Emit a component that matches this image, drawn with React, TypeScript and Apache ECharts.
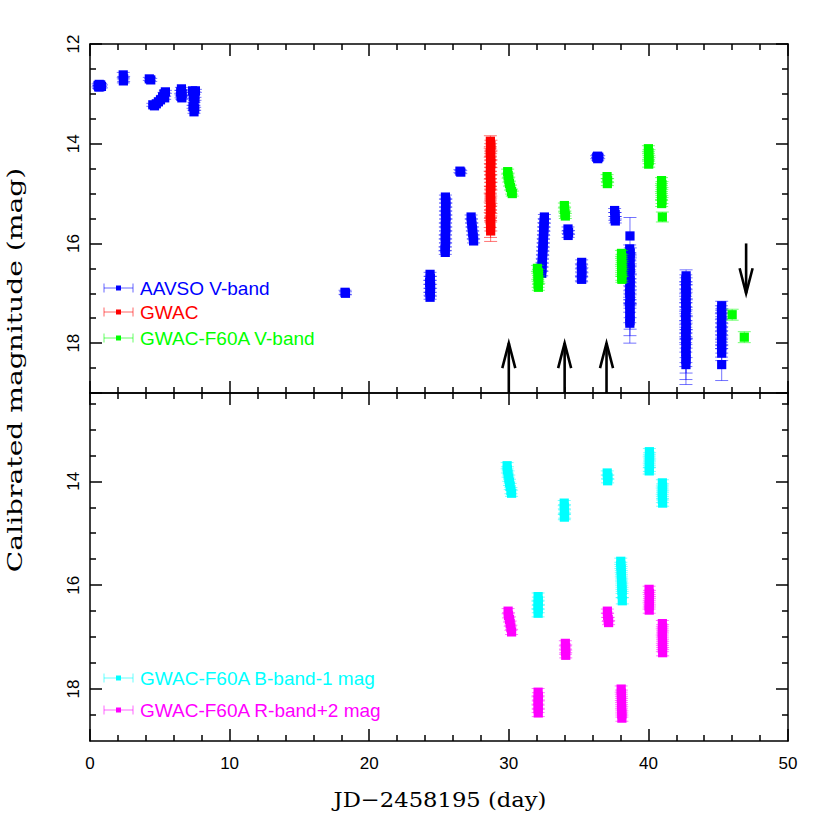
import React, { useEffect, useRef } from "react";
import * as echarts from "echarts";

// Each point: [JD - 2458195 (day), calibrated magnitude, error]
const aavsoV: number[][] = [
  [0.58, 12.83, 0.03], [0.66, 12.81, 0.03], [0.76, 12.82, 0.03], [0.82, 12.85, 0.03], [0.7, 12.86, 0.03], [0.62, 12.86, 0.03],
  [2.38, 12.62, 0.05], [2.41, 12.7, 0.05], [2.39, 12.74, 0.04],
  [4.25, 12.7, 0.03], [4.35, 12.72, 0.03],
  [4.5, 13.22, 0.03], [4.62, 13.24, 0.03], [4.75, 13.2, 0.03], [4.9, 13.16, 0.03], [5.05, 13.12, 0.03], [5.2, 13.06, 0.03], [5.3, 13.0, 0.03], [5.4, 12.96, 0.03], [5.35, 13.08, 0.03],
  [6.55, 12.9, 0.03], [6.5, 12.96, 0.03], [6.6, 13.0, 0.03], [6.52, 13.05, 0.03], [6.58, 13.08, 0.03],
  [7.35, 12.94, 0.03], [7.55, 12.94, 0.03], [7.45, 12.98, 0.03], [7.4, 13.06, 0.03], [7.52, 13.1, 0.03], [7.45, 13.2, 0.03], [7.38, 13.26, 0.03], [7.5, 13.3, 0.03], [7.45, 13.36, 0.03],
  [18.27, 16.98, 0.04], [18.3, 17.0, 0.03],
  [24.36, 16.62, 0.04], [24.38, 16.7, 0.04], [24.33, 16.78, 0.04], [24.4, 16.86, 0.04], [24.34, 16.94, 0.04], [24.38, 17.02, 0.04], [24.36, 17.08, 0.04],
  [25.46, 15.07, 0.04], [25.5, 15.15, 0.04], [25.47, 15.23, 0.04], [25.49, 15.31, 0.04], [25.46, 15.39, 0.04], [25.5, 15.47, 0.04], [25.48, 15.55, 0.04], [25.45, 15.63, 0.04],
  [25.49, 15.71, 0.04], [25.47, 15.79, 0.04], [25.44, 15.87, 0.04], [25.48, 15.95, 0.04], [25.46, 16.03, 0.04], [25.43, 16.11, 0.04], [25.45, 16.18, 0.04],
  [26.5, 14.55, 0.03], [26.56, 14.57, 0.03],
  [27.3, 15.47, 0.04], [27.33, 15.55, 0.04], [27.36, 15.63, 0.04], [27.39, 15.71, 0.04], [27.42, 15.79, 0.04], [27.45, 15.87, 0.04], [27.48, 15.95, 0.04],
  [32.55, 15.47, 0.05], [32.54, 15.55, 0.05], [32.52, 15.63, 0.05], [32.51, 15.71, 0.05], [32.5, 15.79, 0.05], [32.48, 15.87, 0.05], [32.47, 15.95, 0.05], [32.46, 16.03, 0.05],
  [32.44, 16.11, 0.05], [32.43, 16.19, 0.05], [32.41, 16.27, 0.05], [32.4, 16.35, 0.05], [32.38, 16.43, 0.05], [32.37, 16.51, 0.05], [32.36, 16.6, 0.05],
  [34.24, 15.71, 0.04], [34.28, 15.78, 0.04], [34.25, 15.84, 0.04],
  [35.22, 16.38, 0.05], [35.2, 16.46, 0.05], [35.24, 16.54, 0.05], [35.22, 16.62, 0.05], [35.2, 16.7, 0.05], [35.22, 16.72, 0.05],
  [36.3, 14.27, 0.03], [36.44, 14.27, 0.03], [36.37, 14.3, 0.03], [36.36, 14.25, 0.03],
  [37.58, 15.34, 0.04], [37.62, 15.42, 0.04], [37.6, 15.5, 0.04], [37.63, 15.55, 0.04],
  [38.68, 15.85, 0.37],
  [38.66, 16.11, 0.08], [38.7, 16.19, 0.1], [38.67, 16.27, 0.08], [38.69, 16.35, 0.1], [38.66, 16.43, 0.1], [38.7, 16.51, 0.1], [38.68, 16.59, 0.12], [38.66, 16.67, 0.1],
  [38.7, 16.75, 0.12], [38.67, 16.83, 0.12], [38.69, 16.91, 0.12], [38.66, 16.99, 0.14], [38.7, 17.07, 0.14], [38.68, 17.15, 0.15], [38.66, 17.23, 0.15], [38.69, 17.31, 0.18],
  [38.67, 17.39, 0.2], [38.69, 17.47, 0.25], [38.68, 17.55, 0.3], [38.67, 17.6, 0.4],
  [42.7, 16.65, 0.12], [42.68, 16.73, 0.1], [42.7, 16.81, 0.12], [42.67, 16.89, 0.12], [42.71, 16.97, 0.14], [42.68, 17.05, 0.14], [42.7, 17.13, 0.15], [42.67, 17.21, 0.15],
  [42.71, 17.29, 0.16], [42.69, 17.37, 0.18], [42.67, 17.45, 0.18], [42.7, 17.53, 0.2], [42.68, 17.61, 0.2], [42.71, 17.69, 0.22], [42.67, 17.77, 0.22], [42.7, 17.85, 0.25],
  [42.68, 17.93, 0.25], [42.7, 18.01, 0.28], [42.69, 18.09, 0.3], [42.68, 18.17, 0.3], [42.7, 18.25, 0.35], [42.69, 18.33, 0.4], [42.69, 18.43, 0.4],
  [45.25, 17.25, 0.09], [45.23, 17.33, 0.08], [45.26, 17.41, 0.1], [45.24, 17.49, 0.1], [45.25, 17.57, 0.1], [45.23, 17.65, 0.12], [45.26, 17.73, 0.12], [45.24, 17.81, 0.12],
  [45.25, 17.89, 0.14], [45.24, 17.97, 0.14], [45.25, 18.05, 0.15], [45.24, 18.13, 0.15], [45.25, 18.2, 0.15], [45.25, 18.43, 0.32],
];

const gwac: number[][] = [
  [28.68, 13.95, 0.11], [28.72, 14.03, 0.1], [28.7, 14.1, 0.1], [28.67, 14.18, 0.09], [28.71, 14.25, 0.09], [28.69, 14.33, 0.08], [28.72, 14.4, 0.08], [28.68, 14.48, 0.08],
  [28.7, 14.55, 0.08], [28.67, 14.63, 0.08], [28.71, 14.7, 0.08], [28.69, 14.78, 0.08], [28.72, 14.85, 0.08], [28.68, 14.93, 0.08], [28.7, 15.0, 0.09], [28.67, 15.08, 0.09],
  [28.71, 15.15, 0.1], [28.69, 15.23, 0.1], [28.72, 15.3, 0.1], [28.68, 15.38, 0.12], [28.7, 15.45, 0.12], [28.67, 15.53, 0.15], [28.71, 15.6, 0.15], [28.69, 15.68, 0.2], [28.7, 15.75, 0.21],
];

const f60aV: number[][] = [
  [29.92, 14.56, 0.05], [29.95, 14.64, 0.05], [30.0, 14.72, 0.05], [30.05, 14.8, 0.05], [30.12, 14.88, 0.05], [30.2, 14.96, 0.05], [30.25, 15.0, 0.05],
  [32.05, 16.5, 0.06], [32.12, 16.58, 0.06], [32.08, 16.66, 0.06], [32.15, 16.74, 0.06], [32.1, 16.82, 0.06], [32.12, 16.88, 0.06],
  [33.98, 15.24, 0.05], [34.0, 15.32, 0.05], [34.02, 15.4, 0.05], [34.05, 15.45, 0.05],
  [37.04, 14.66, 0.04], [37.08, 14.74, 0.04], [37.06, 14.8, 0.04],
  [38.07, 16.2, 0.06], [38.1, 16.28, 0.06], [38.07, 16.36, 0.06], [38.11, 16.44, 0.06], [38.08, 16.52, 0.06], [38.1, 16.6, 0.06], [38.09, 16.68, 0.06], [38.1, 16.72, 0.06],
  [40.0, 14.1, 0.06], [40.04, 14.18, 0.06], [40.01, 14.26, 0.06], [40.05, 14.34, 0.06], [40.02, 14.41, 0.06],
  [40.94, 14.74, 0.06], [40.97, 14.82, 0.06], [40.93, 14.9, 0.06], [40.96, 14.98, 0.06], [40.94, 15.06, 0.06], [40.97, 15.14, 0.06], [40.95, 15.2, 0.06],
  [41.0, 15.47, 0.1],
  [46.0, 17.43, 0.11],
  [46.87, 17.88, 0.11],
];

const f60aBminus1: number[][] = [
  [29.88, 13.7, 0.06], [29.9, 13.78, 0.06], [29.95, 13.86, 0.06], [30.0, 13.94, 0.06], [30.05, 14.02, 0.06], [30.1, 14.1, 0.06], [30.15, 14.18, 0.06], [30.2, 14.23, 0.06],
  [32.1, 16.22, 0.07], [32.12, 16.3, 0.07], [32.09, 16.38, 0.07], [32.11, 16.46, 0.07], [32.1, 16.54, 0.07],
  [33.97, 14.42, 0.05], [33.99, 14.5, 0.05], [33.98, 14.58, 0.05], [34.0, 14.66, 0.05], [33.98, 14.69, 0.05],
  [37.05, 13.84, 0.04], [37.1, 13.92, 0.04], [37.08, 13.99, 0.04],
  [38.02, 15.54, 0.06], [38.03, 15.62, 0.06], [38.05, 15.7, 0.06], [38.06, 15.78, 0.06], [38.07, 15.86, 0.06], [38.09, 15.94, 0.06], [38.1, 16.02, 0.06], [38.11, 16.1, 0.06],
  [38.12, 16.18, 0.06], [38.13, 16.3, 0.06],
  [40.07, 13.43, 0.06], [40.09, 13.51, 0.06], [40.06, 13.59, 0.06], [40.08, 13.67, 0.06], [40.07, 13.75, 0.06], [40.06, 13.8, 0.06],
  [41.0, 14.03, 0.06], [41.02, 14.11, 0.06], [40.99, 14.19, 0.06], [41.01, 14.27, 0.06], [41.0, 14.35, 0.06], [41.02, 14.42, 0.06],
];

const f60aRplus2: number[][] = [
  [29.95, 16.5, 0.05], [29.98, 16.58, 0.05], [30.05, 16.66, 0.05], [30.1, 16.74, 0.05], [30.15, 16.82, 0.05], [30.2, 16.9, 0.05],
  [32.1, 18.06, 0.07], [32.12, 18.14, 0.07], [32.09, 18.22, 0.07], [32.11, 18.3, 0.07], [32.1, 18.38, 0.07], [32.11, 18.46, 0.07],
  [34.05, 17.12, 0.05], [34.08, 17.2, 0.05], [34.06, 17.28, 0.05], [34.08, 17.35, 0.05],
  [37.06, 16.5, 0.04], [37.08, 16.58, 0.04], [37.12, 16.66, 0.04], [37.15, 16.72, 0.04],
  [38.05, 18.0, 0.06], [38.07, 18.08, 0.06], [38.06, 18.16, 0.06], [38.08, 18.24, 0.06], [38.07, 18.32, 0.06], [38.09, 18.4, 0.06], [38.1, 18.48, 0.06], [38.1, 18.56, 0.06],
  [40.05, 16.08, 0.06], [40.08, 16.16, 0.06], [40.06, 16.24, 0.06], [40.07, 16.32, 0.06], [40.05, 16.4, 0.06], [40.06, 16.48, 0.06],
  [41.0, 16.74, 0.06], [41.02, 16.82, 0.06], [40.99, 16.9, 0.06], [41.01, 16.98, 0.06], [41.0, 17.06, 0.06], [41.02, 17.14, 0.06], [41.0, 17.22, 0.06], [41.02, 17.3, 0.06],
];

// Arrows: [x, from magnitude, to magnitude]
const arrows: number[][] = [
  [30, 19, 18],
  [34, 19, 18],
  [37, 19, 18],
  [47, 16, 17],
];

const topLegendLabels = ["AAVSO V-band", "GWAC", "GWAC-F60A V-band"];
const topLegendColors = ["#0000ff", "#ff0000", "#00ff00"];
const bottomLegendLabels = ["GWAC-F60A B-band-1 mag", "GWAC-F60A R-band+2 mag"];
const bottomLegendColors = ["#00ffff", "#ff00ff"];

const bottomMajorTicks = [14, 16, 18];
const bottomMinorTicks = [12.5, 13, 13.5, 14.5, 15, 15.5, 16.5, 17, 17.5, 18.5];

const LABEL_FONT = "Liberation Sans";
const TITLE_FONT = "DejaVu Serif";

function errRender(color: string) {
  return (params: any, api: any) => {
    const x = api.value(0);
    const y = api.value(1);
    const e = api.value(2);
    const c = api.coord([x, y]);
    const t = api.coord([x, y - e]);
    const b = api.coord([x, y + e]);
    const cw = 6.5;
    const s = 4.6;
    const ls = { stroke: color, lineWidth: 1, opacity: 0.55 };
    return {
      type: "group",
      children: [
        { type: "line", shape: { x1: c[0], y1: t[1], x2: c[0], y2: b[1] }, style: ls },
        { type: "line", shape: { x1: c[0] - cw, y1: t[1], x2: c[0] + cw, y2: t[1] }, style: ls },
        { type: "line", shape: { x1: c[0] - cw, y1: b[1], x2: c[0] + cw, y2: b[1] }, style: ls },
        { type: "rect", shape: { x: c[0] - s, y: c[1] - s, width: 2 * s, height: 2 * s }, style: { fill: color } },
      ],
    };
  };
}

function arrowRender(params: any, api: any) {
  const x = api.value(0);
  const a = api.coord([x, api.value(1)]);
  const b = api.coord([x, api.value(2)]);
  const dir = b[1] < a[1] ? -1 : 1;
  const hl = 25;
  const hw = 6.5;
  return {
    type: "group",
    children: [
      { type: "line", shape: { x1: a[0], y1: a[1], x2: b[0], y2: b[1] }, style: { stroke: "#000", lineWidth: 2.6 } },
      {
        type: "polyline",
        shape: { points: [[b[0] - hw, b[1] - dir * hl], [b[0], b[1]], [b[0] + hw, b[1] - dir * hl]] },
        style: { stroke: "#000", lineWidth: 2.6, fill: "none" },
      },
    ],
  };
}

const lineStyle = { color: "#000", width: 1.5 };

function xAxisDef(grid: number, pos: string, labels: boolean) {
  return {
    type: "value",
    gridIndex: grid,
    position: pos,
    min: 0,
    max: 50,
    interval: 10,
    axisLine: { show: true, onZero: false, lineStyle },
    axisTick: { show: true, inside: true, length: 12, lineStyle },
    minorTick: { show: true, splitNumber: 5, length: 6, lineStyle },
    axisLabel: { show: labels, margin: 14, fontSize: 17, fontFamily: LABEL_FONT, color: "#000" },
    splitLine: { show: false },
    minorSplitLine: { show: false },
  };
}

function legendGraphics(labels: string[], colors: string[], ys: number[]) {
  const out: any[] = [];
  labels.forEach((label, i) => {
    const y = ys[i];
    const col = colors[i];
    const ls = { stroke: col, lineWidth: 1, opacity: 0.6 };
    out.push({ type: "line", shape: { x1: 104, y1: y, x2: 133, y2: y }, style: ls });
    out.push({ type: "line", shape: { x1: 104, y1: y - 4.5, x2: 104, y2: y + 4.5 }, style: ls });
    out.push({ type: "line", shape: { x1: 133, y1: y - 4.5, x2: 133, y2: y + 4.5 }, style: ls });
    out.push({ type: "rect", shape: { x: 116, y: y - 2.5, width: 5, height: 5 }, style: { fill: col } });
    out.push({
      type: "text",
      x: 140,
      y: y,
      style: { text: label, fill: col, font: `19px "${LABEL_FONT}"`, textAlign: "left", textVerticalAlign: "middle", align: "left", verticalAlign: "middle" },
    });
  });
  return out;
}

export default function App() {
  const ref = useRef<HTMLDivElement>(null);
  useEffect(() => {
    if (!ref.current) return;
    const chart = echarts.init(ref.current, null, { renderer: "svg" });
    const option: any = {
      animation: false,
      backgroundColor: "#fff",
      grid: [
        { left: 90, right: 42, top: 44, height: 349, outerBoundsMode: "none" },
        { left: 90, right: 42, top: 393, height: 348, outerBoundsMode: "none" },
      ],
      xAxis: [
        xAxisDef(0, "bottom", false),
        xAxisDef(0, "top", false),
        xAxisDef(1, "bottom", true),
        xAxisDef(1, "top", false),
      ],
      yAxis: [
        {
          type: "value", gridIndex: 0, position: "left", inverse: true, min: 12, max: 19, interval: 2,
          axisLine: { show: true, onZero: false, lineStyle },
          axisTick: { show: true, inside: true, length: 12, lineStyle },
          minorTick: { show: true, splitNumber: 4, length: 6, lineStyle },
          axisLabel: { show: true, rotate: 90, margin: 8, fontSize: 17, fontFamily: LABEL_FONT, color: "#000", showMaxLabel: false },
          splitLine: { show: false }, minorSplitLine: { show: false },
        },
        {
          type: "value", gridIndex: 0, position: "right", inverse: true, min: 12, max: 19, interval: 2,
          axisLine: { show: true, onZero: false, lineStyle },
          axisTick: { show: true, inside: true, length: 12, lineStyle },
          minorTick: { show: true, splitNumber: 4, length: 6, lineStyle },
          axisLabel: { show: false },
          splitLine: { show: false }, minorSplitLine: { show: false },
        },
        {
          type: "value", gridIndex: 1, position: "left", inverse: true, min: 12.3, max: 19,
          axisLine: { show: true, onZero: false, lineStyle },
          axisTick: { show: true, inside: true, length: 12, lineStyle, customValues: bottomMajorTicks },
          axisLabel: { show: true, rotate: 90, margin: 8, fontSize: 17, fontFamily: LABEL_FONT, color: "#000", customValues: bottomMajorTicks },
          splitLine: { show: false },
        },
        {
          type: "value", gridIndex: 1, position: "left", inverse: true, min: 12.3, max: 19,
          axisLine: { show: false, onZero: false },
          axisTick: { show: true, inside: true, length: 6, lineStyle, customValues: bottomMinorTicks },
          axisLabel: { show: false },
          splitLine: { show: false },
        },
        {
          type: "value", gridIndex: 1, position: "right", inverse: true, min: 12.3, max: 19,
          axisLine: { show: true, onZero: false, lineStyle },
          axisTick: { show: true, inside: true, length: 12, lineStyle, customValues: bottomMajorTicks },
          axisLabel: { show: false },
          splitLine: { show: false },
        },
        {
          type: "value", gridIndex: 1, position: "right", inverse: true, min: 12.3, max: 19,
          axisLine: { show: false, onZero: false },
          axisTick: { show: true, inside: true, length: 6, lineStyle, customValues: bottomMinorTicks },
          axisLabel: { show: false },
          splitLine: { show: false },
        },
      ],
      series: [
        { name: topLegendLabels[0], type: "custom", xAxisIndex: 0, yAxisIndex: 0, data: aavsoV, renderItem: errRender(topLegendColors[0]), encode: { x: 0, y: 1 } },
        { name: topLegendLabels[1], type: "custom", xAxisIndex: 0, yAxisIndex: 0, data: gwac, renderItem: errRender(topLegendColors[1]), encode: { x: 0, y: 1 } },
        { name: topLegendLabels[2], type: "custom", xAxisIndex: 0, yAxisIndex: 0, data: f60aV, renderItem: errRender(topLegendColors[2]), encode: { x: 0, y: 1 } },
        { name: "arrows", type: "custom", xAxisIndex: 0, yAxisIndex: 0, data: arrows, renderItem: arrowRender, encode: { x: 0, y: [1, 2] }, clip: false },
        { name: bottomLegendLabels[0], type: "custom", xAxisIndex: 2, yAxisIndex: 2, data: f60aBminus1, renderItem: errRender(bottomLegendColors[0]), encode: { x: 0, y: 1 } },
        { name: bottomLegendLabels[1], type: "custom", xAxisIndex: 2, yAxisIndex: 2, data: f60aRplus2, renderItem: errRender(bottomLegendColors[1]), encode: { x: 0, y: 1 } },
      ],
      graphic: [
        ...legendGraphics(topLegendLabels, topLegendColors, [288, 312, 338]),
        ...legendGraphics(bottomLegendLabels, bottomLegendColors, [678, 710]),
        {
          type: "text",
          x: 15,
          y: 370,
          rotation: Math.PI / 2,
          scaleX: 1.34,
          style: { text: "Calibrated magnitude (mag)", fill: "#000", font: `21px "${TITLE_FONT}"`, textAlign: "center", textVerticalAlign: "middle", align: "center", verticalAlign: "middle" },
        },
        {
          type: "text",
          x: 440,
          y: 800,
          scaleX: 1.08,
          style: { text: "JD\u22122458195 (day)", fill: "#000", font: `21px "${TITLE_FONT}"`, textAlign: "center", textVerticalAlign: "middle", align: "center", verticalAlign: "middle" },
        },
      ],
    };
    chart.setOption(option);
    return () => chart.dispose();
  }, []);
  return <div ref={ref} style={{ position: "fixed", left: 0, top: 0, width: 830, height: 830, background: "#fff" }} />;
}
